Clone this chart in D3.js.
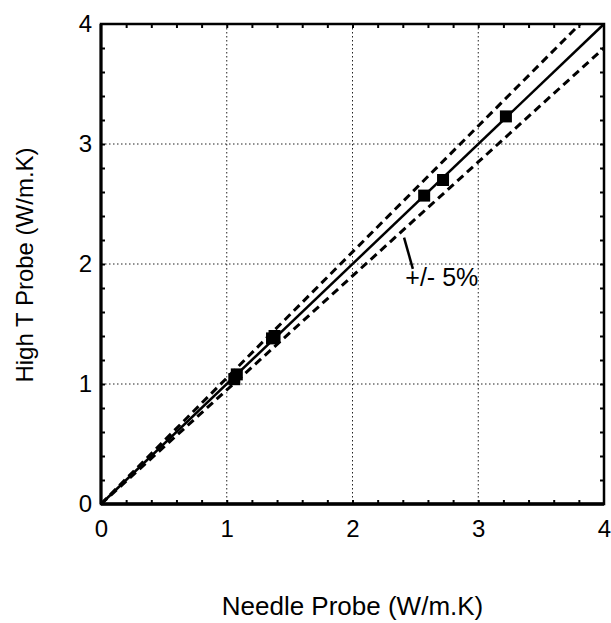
<!DOCTYPE html>
<html>
<head>
<meta charset="utf-8">
<script src="https://cdn.jsdelivr.net/npm/d3@7/dist/d3.min.js"></script>
<style>
  body { margin: 0; background: #fff; }
  text { font-family: "Liberation Sans", Arial, sans-serif; fill: #000; }
</style>
</head>
<body>
<div class="chart"></div>
<script>
// Data
var needle = [1.06, 1.08, 1.36, 1.38, 2.57, 2.72, 3.22];
var highT  = [1.04, 1.08, 1.38, 1.40, 2.57, 2.70, 3.23];
var tickValues = [0, 1, 2, 3, 4];
var bandFactors = [1.05, 0.95];

var svgWidth = 611, svgHeight = 623;
var margin = { top: 24, right: 7, bottom: 119, left: 101 };
var chartWidth = svgWidth - margin.left - margin.right;
var chartHeight = svgHeight - margin.top - margin.bottom;

var svg = d3.select(".chart")
  .append("svg")
  .attr("width", svgWidth)
  .attr("height", svgHeight)
  .append("g")
  .attr("transform", "translate(" + margin.left + "," + margin.top + ")");

var x = d3.scaleLinear().domain([0, 4]).range([0, chartWidth]);
var y = d3.scaleLinear().domain([0, 4]).range([chartHeight, 0]);

// dotted grid
svg.selectAll(".gx").data([1, 2, 3]).enter().append("line")
  .attr("x1", d => x(d)).attr("x2", d => x(d))
  .attr("y1", 0).attr("y2", chartHeight)
  .attr("stroke", "#222").attr("stroke-width", 1).attr("stroke-dasharray", "1.5,2.5");
svg.selectAll(".gy").data([1, 2, 3]).enter().append("line")
  .attr("y1", d => y(d)).attr("y2", d => y(d))
  .attr("x1", 0).attr("x2", chartWidth)
  .attr("stroke", "#222").attr("stroke-width", 1).attr("stroke-dasharray", "1.5,2.5");

// inward minor ticks on all four sides
var minor = d3.range(0.2, 4, 0.2);
function ticks(axis, tr) {
  var g = svg.append("g").attr("transform", tr).call(axis);
  g.select(".domain").remove();
  g.selectAll("line").attr("stroke", "#000").attr("stroke-width", 2);
}
ticks(d3.axisBottom(x).tickValues(minor).tickSize(-4).tickFormat(""), "translate(0," + chartHeight + ")");
ticks(d3.axisTop(x).tickValues(minor).tickSize(-4).tickFormat(""), "translate(0,0)");
ticks(d3.axisLeft(y).tickValues(minor).tickSize(-4).tickFormat(""), "translate(0,0)");
ticks(d3.axisRight(y).tickValues(minor).tickSize(-4).tickFormat(""), "translate(" + chartWidth + ",0)");

// frame
svg.append("rect").attr("width", chartWidth).attr("height", chartHeight)
  .attr("fill", "none").attr("stroke", "#000").attr("stroke-width", 2.5);
svg.append("line").attr("x1", 0).attr("x2", 0).attr("y1", 0).attr("y2", chartHeight)
  .attr("stroke", "#000").attr("stroke-width", 3);
svg.append("line").attr("x1", 0).attr("x2", chartWidth).attr("y1", chartHeight).attr("y2", chartHeight)
  .attr("stroke", "#000").attr("stroke-width", 3.5);

// tick labels
var xAxis = svg.append("g").attr("transform", "translate(0," + chartHeight + ")")
  .call(d3.axisBottom(x).tickValues(tickValues).tickSize(0).tickPadding(16).tickFormat(d3.format("d")));
xAxis.select(".domain").remove();
xAxis.selectAll("text").style("font-size", "24px").attr("fill", "#000");

var yAxis = svg.append("g")
  .call(d3.axisLeft(y).tickValues(tickValues).tickSize(0).tickPadding(9).tickFormat(d3.format("d")));
yAxis.select(".domain").remove();
yAxis.selectAll("text").style("font-size", "24px").attr("fill", "#000");

var plot = svg.append("g");

// 1:1 line
var line = d3.line().x(d => x(d[0])).y(d => y(d[1]));
plot.append("path").datum([[0, 0], [4, 4]]).attr("d", line)
  .attr("stroke", "#000").attr("stroke-width", 2.5).attr("fill", "none");

// +/- 5% lines
bandFactors.forEach(function(f) {
  var xEnd = Math.min(4, 4 / f);
  plot.append("path").datum([[0, 0], [xEnd, xEnd * f]]).attr("d", line)
    .attr("stroke", "#000").attr("stroke-width", 3).attr("fill", "none")
    .attr("stroke-dasharray", "8,5");
});

// square markers
plot.selectAll(".pt").data(needle).enter().append("rect")
  .attr("x", (d, i) => x(d) - 6)
  .attr("y", (d, i) => y(highT[i]) - 6)
  .attr("width", 12).attr("height", 12)
  .attr("fill", "#000");

// annotation
plot.append("line")
  .attr("x1", x(2.41)).attr("y1", y(2.22))
  .attr("x2", x(2.48)).attr("y2", y(1.96))
  .attr("stroke", "#000").attr("stroke-width", 2.5);
plot.append("text").attr("x", x(2.42)).attr("y", y(1.82))
  .style("font-size", "25px").text("+/- 5%");

// axis titles
svg.append("text")
  .attr("x", chartWidth / 2).attr("y", chartHeight + 111)
  .attr("text-anchor", "middle").style("font-size", "26px")
  .text("Needle Probe (W/m.K)");
svg.append("text")
  .attr("transform", "translate(-68," + (chartHeight / 2 + 1) + ") rotate(-90)")
  .attr("text-anchor", "middle").style("font-size", "24px")
  .text("High T Probe (W/m.K)");
</script>
</body>
</html>
